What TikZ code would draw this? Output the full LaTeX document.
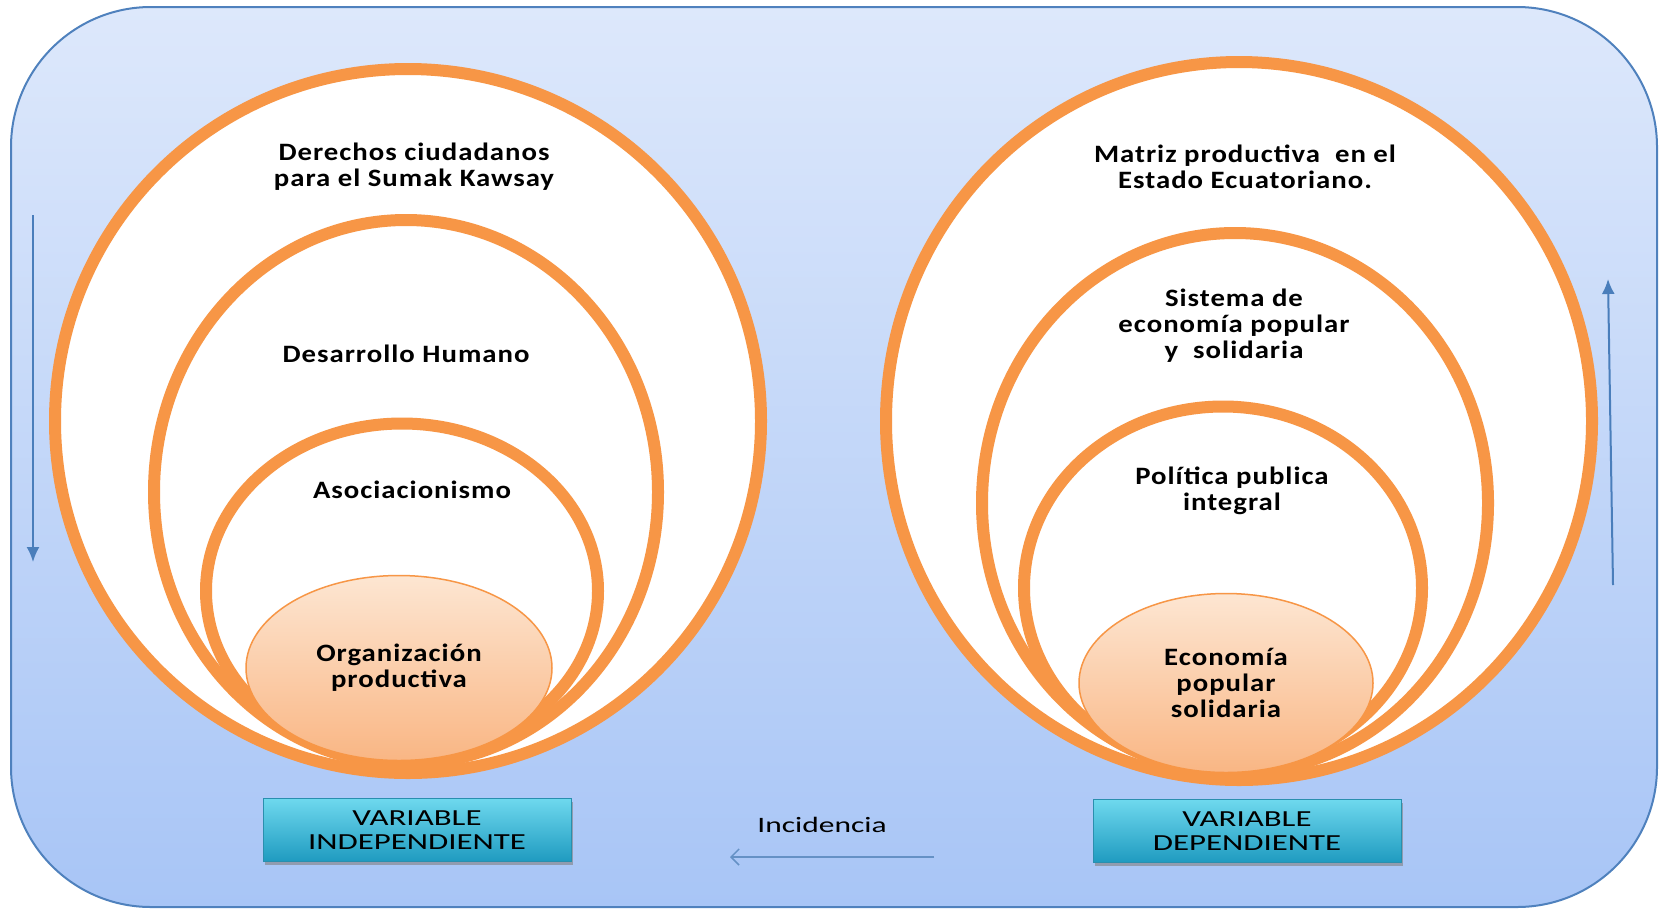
\documentclass[tikz,border=0pt]{standalone}
\usepackage{fontspec}
\setmainfont[FakeStretch=1.15, LetterSpace=4]{Carlito}
\newfontfamily\boxfont[FakeStretch=1.43]{Carlito}
\usepackage{tikz}
\usetikzlibrary{arrows, arrows.meta, shapes.geometric, shadows, positioning}
\definecolor{ringorange}{HTML}{F79646}
\definecolor{corelight}{HTML}{FDE6D2}
\definecolor{coredark}{HTML}{F9B684}
\definecolor{frameblue}{HTML}{4F81BD}
\definecolor{bgtop}{HTML}{DDE8FB}
\definecolor{bgbottom}{HTML}{A8C5F6}
\definecolor{arrowblue}{HTML}{4A7EBB}
\definecolor{boxtop}{HTML}{6ED8EE}
\definecolor{boxbottom}{HTML}{1F9BC0}
\definecolor{boxline}{HTML}{2A8FAE}
\tikzstyle{ring}=[ellipse, draw=ringorange, fill=white, line width=12pt, inner sep=0pt]
\tikzstyle{core}=[ellipse, draw=ringorange, line width=1.5pt, top color=corelight, bottom color=coredark, inner sep=0pt, font=\bfseries\fontsize{25}{26}\selectfont, align=center]
\tikzstyle{tag}=[font=\bfseries\fontsize{25}{26}\selectfont, align=center]
\tikzstyle{varbox}=[rectangle, draw=boxline, top color=boxtop, bottom color=boxbottom, minimum width=308pt, minimum height=63pt, drop shadow={opacity=0.6, shadow xshift=2pt, shadow yshift=-3pt}, font=\boxfont\fontsize{23}{24}\selectfont, align=center]

\begin{document}
\begin{tikzpicture}[x=1pt, y=-1pt, >={Latex[length=15pt, width=13pt]}]
    \useasboundingbox (0,0) rectangle (1664,911);
    \draw[frameblue, line width=2pt, top color=bgtop, bottom color=bgbottom, rounded corners=140pt] (11,7) rectangle (1657,907);

    % left side
    \node[ring, minimum width=706pt, minimum height=704pt] (l0) at (408,421) {};
    \node[ring, minimum width=504pt, minimum height=544pt] (l1) at (406,492) {};
    \node[ring, minimum width=392pt, minimum height=335pt] (l2) at (402,591) {};
    \node[core, minimum width=306pt, minimum height=185pt] (l3) at (399,668) {Organización\\productiva};
    \node[tag] (t0) at (414,167) {Derechos ciudadanos\\para el Sumak Kawsay};
    \node[tag] (t1) at (406,354) {Desarrollo Humano};
    \node[tag] (t2) at (412,490) {Asociacionismo};

    % right side
    \node[ring, minimum width=706pt, minimum height=718pt] (r0) at (1239,421) {};
    \node[ring, minimum width=506pt, minimum height=540pt] (r1) at (1235,503) {};
    \node[ring, minimum width=398pt, minimum height=363pt] (r2) at (1223,588) {};
    \node[core, minimum width=294pt, minimum height=179pt] (r3) at (1226,683) {Economía\\popular\\solidaria};
    \node[tag] (u0) at (1245,167) {Matriz productiva~ en el\\Estado Ecuatoriano.};
    \node[tag] (u1) at (1234,326) {Sistema de\\economía popular\\y~ solidaria};
    \node[tag] (u2) at (1232,491) {Política publica\\integral};

    % variables
    \node[varbox] (vi) at (417,830) {VARIABLE\\INDEPENDIENTE};
    \node[varbox] (vd) at (1247,831) {VARIABLE\\DEPENDIENTE};
    \node[font=\boxfont\fontsize{22}{24}\selectfont] (inc) at (822,825) {Incidencia};

    % arrows
    \coordinate (a0) at (33,215);
    \coordinate (a1) at (33,562);
    \coordinate (b0) at (1613,585);
    \coordinate (b1) at (1608,279);
    \coordinate (c0) at (934,857);
    \coordinate (c1) at (730,857);
    \draw[->, arrowblue, line width=2pt] (a0) -- (a1);
    \draw[->, arrowblue, line width=2pt] (b0) -- (b1);
    \draw[-{Straight Barb[length=8pt, width=16pt]}, arrowblue!85, line width=1.5pt] (c0) -- (c1);
\end{tikzpicture}
\end{document}
